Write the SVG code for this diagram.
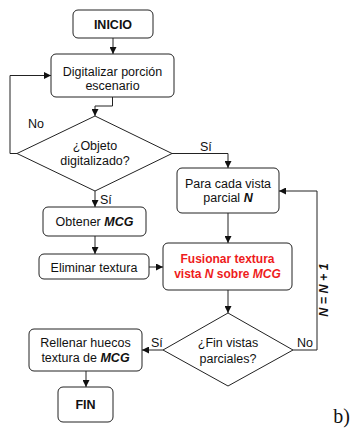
<svg xmlns="http://www.w3.org/2000/svg" width="350" height="428" viewBox="0 0 350 428">
  <style>
    .box { fill: #ffffff; stroke: #222222; stroke-width: 1; }
    .edge { fill: none; stroke: #222222; stroke-width: 1; marker-end: url(#arrow); }
    text { font-family: "Liberation Sans", Arial, sans-serif; font-size: 12.5px; fill: #111111; text-anchor: middle; }
    .b { font-weight: bold; }
    .bi { font-weight: bold; font-style: italic; }
    .red { fill: #ee1c1c; font-weight: bold; font-size: 12px; }
    .lbl { text-anchor: start; }
  </style>
  <defs>
    <marker id="arrow" viewBox="0 0 10 10" refX="10" refY="5" markerWidth="7" markerHeight="7" markerUnits="userSpaceOnUse" orient="auto">
      <path d="M0,0 L10,5 L0,10 z" fill="#111111"/>
    </marker>
  </defs>
  <rect width="350" height="428" fill="#ffffff"/>

  <g id="connectors">
    <!-- INICIO -> Digitalizar -->
    <path class="edge" d="M113,38 V54"/>
    <!-- Digitalizar -> decision 1 -->
    <path class="edge" d="M112.5,97 V106 H95 V116"/>
    <!-- decision 1 No loop -->
    <path class="edge" d="M17,153.5 H10 V75.5 H51"/>
    <!-- decision 1 Sí -> Obtener -->
    <path class="edge" d="M95,191 V207"/>
    <!-- decision 1 Sí -> Para cada -->
    <path class="edge" d="M172,153.5 H228 V168"/>
    <!-- Obtener -> Eliminar -->
    <path class="edge" d="M95,236 V254"/>
    <!-- Eliminar -> Fusionar -->
    <path class="edge" d="M149,267 H163"/>
    <!-- Para cada -> Fusionar -->
    <path class="edge" d="M228,213 V243"/>
    <!-- Fusionar -> decision 2 -->
    <path class="edge" d="M228,290 V313"/>
    <!-- decision 2 No loop -->
    <path class="edge" d="M293,350 H317 V191 H279"/>
    <!-- decision 2 Sí -> Rellenar -->
    <path class="edge" d="M163,350 H142"/>
    <!-- Rellenar -> FIN -->
    <path class="edge" d="M86,371 V387"/>
    <text class="lbl" x="28" y="128">No</text>
    <text class="lbl" x="100" y="204">Sí</text>
    <text class="lbl" x="200" y="151">Sí</text>
    <text class="lbl" x="297" y="347">No</text>
    <text class="lbl" x="151" y="347">Sí</text>
    <text class="bi" transform="translate(328,290) rotate(-90)" font-size="11.5">N = N + 1</text>
  </g>

  <g id="inicio">
    <rect class="box" x="73" y="10" width="80" height="28" rx="5"/>
    <text class="b" x="113" y="28.5">INICIO</text>
  </g>

  <g id="digitalizar">
    <rect class="box" x="51" y="54" width="123" height="43" rx="5"/>
    <text x="112.5" y="76">Digitalizar porción</text>
    <text x="112.5" y="90">escenario</text>
  </g>

  <g id="objeto-digitalizado">
    <polygon class="box" points="95,116 172,153.5 95,191 17,153.5"/>
    <text x="95" y="150">¿Objeto</text>
    <text x="95" y="165">digitalizado?</text>
  </g>

  <g id="obtener">
    <rect class="box" x="43" y="207" width="103" height="29" rx="5"/>
    <text x="94.5" y="226">Obtener <tspan class="bi">MCG</tspan></text>
  </g>

  <g id="eliminar">
    <rect class="box" x="39" y="254" width="110" height="25" rx="5"/>
    <text x="94" y="271.5">Eliminar textura</text>
  </g>

  <g id="para-cada">
    <rect class="box" x="177" y="168" width="102" height="45" rx="5"/>
    <text x="228" y="188">Para cada vista</text>
    <text x="228" y="202">parcial <tspan class="bi">N</tspan></text>
  </g>

  <g id="fusionar">
    <rect class="box" x="163" y="243" width="129" height="47" rx="5"/>
    <text class="red" x="227.5" y="263">Fusionar textura</text>
    <text class="red" x="227.5" y="278">vista <tspan font-style="italic">N</tspan> sobre <tspan font-style="italic">MCG</tspan></text>
  </g>

  <g id="fin-vistas">
    <polygon class="box" points="228,313 293,350 228,386 163,350"/>
    <text x="228" y="347">¿Fin vistas</text>
    <text x="228" y="363">parciales?</text>
  </g>

  <g id="rellenar">
    <rect class="box" x="29" y="329" width="113" height="42" rx="5"/>
    <text x="85.5" y="347">Rellenar huecos</text>
    <text x="85.5" y="362">textura de <tspan class="bi">MCG</tspan></text>
  </g>

  <g id="fin">
    <rect class="box" x="58" y="387" width="55" height="35" rx="5"/>
    <text class="b" x="85.5" y="408.5">FIN</text>
  </g>

  <text x="350" y="423" style="font-family: 'Liberation Serif', 'Times New Roman', serif; font-size: 20px; text-anchor: end;">b)</text>
</svg>
